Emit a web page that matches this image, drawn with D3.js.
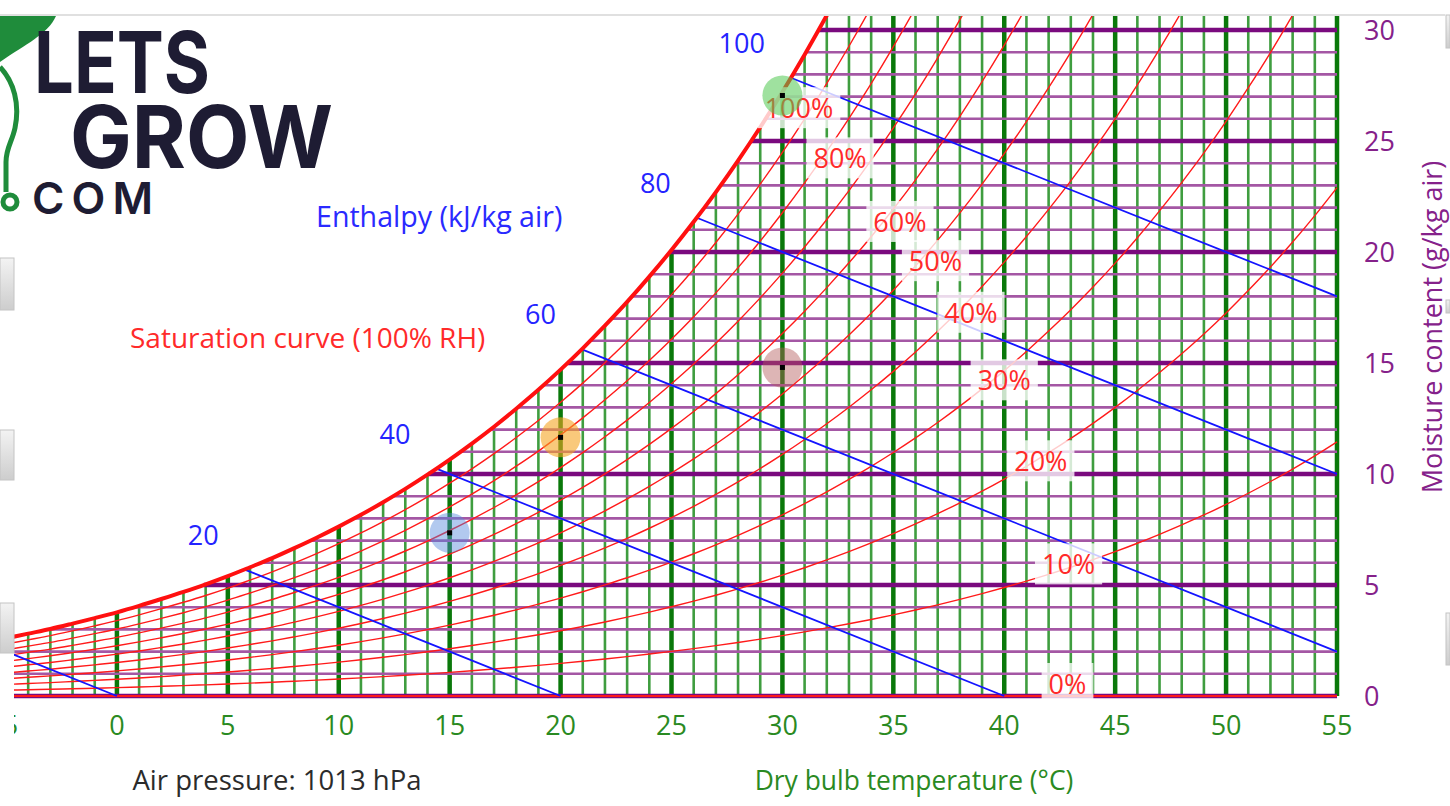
<!DOCTYPE html>
<html>
<head>
<meta charset="utf-8">
<script src="https://cdn.jsdelivr.net/npm/d3@7"></script>
<style>
html, body { margin: 0; padding: 0; background: #fff; overflow: hidden; }
text { font-family: "Open Sans", "Noto Sans", sans-serif; }
</style>
</head>
<body>
<svg id="chart" width="1450" height="806"></svg>
<script>
// dry bulb temperature (°C) and moisture content at saturation (g/kg air, 1013 hPa)
var temps = [-5, -4, -3, -2, -1, 0, 1, 2, 3, 4, 5, 6, 7, 8, 9, 10, 11, 12, 13, 14, 15,
  16, 17, 18, 19, 20, 21, 22, 23, 24, 25, 26, 27, 28, 29, 30, 31, 32, 33, 34, 35,
  36, 37, 38, 39, 40, 41, 42, 43, 44, 45, 46, 47, 48, 49, 50, 51, 52, 53, 54, 55]
var satMoisture = [2.60, 2.81, 3.02, 3.26, 3.51, 3.77, 4.06, 4.37, 4.69, 5.03, 5.40,
  5.80, 6.21, 6.66, 7.13, 7.63, 8.16, 8.73, 9.33, 9.97, 10.65,
  11.37, 12.13, 12.94, 13.79, 14.70, 15.66, 16.68, 17.75, 18.89, 20.09,
  21.36, 22.70, 24.12, 25.62, 27.21, 28.89, 30.66, 32.52, 34.48, 36.56,
  38.75, 41.07, 43.52, 46.12, 48.86, 51.74, 54.80, 58.01, 61.41, 65.00,
  68.81, 72.85, 77.09, 81.54, 86.28, 91.33, 96.62, 102.24, 108.20, 114.51]

// relative humidity curves (%) and where their labels sit (°C, null = no label)
var rhLevels = [0, 10, 20, 30, 40, 50, 60, 70, 80, 90, 100]
var rhLabelTemps = [42.0, 41.7, 40.45, 38.8, 37.3, 35.7, 34.1, null, 31.4, null, 29.2]

// enthalpy lines (kJ/kg air)
var enthalpyLevels = [0, 20, 40, 60, 80, 100]

var xTicks = [-5, 0, 5, 10, 15, 20, 25, 30, 35, 40, 45, 50, 55]
var yTicks = [0, 5, 10, 15, 20, 25, 30]

// marked air states
var pointTemps = [30, 30, 20, 15]
var pointMoisture = [27.05, 14.8, 11.65, 7.35]
var pointColors = ['rgba(80,200,80,0.55)', 'rgba(180,90,90,0.45)', 'rgba(245,165,35,0.6)', 'rgba(85,135,220,0.45)']

var svg = d3.select('#chart')

var x = d3.scaleLinear().domain([-5, 55]).range([6, 1337])
var y = d3.scaleLinear().domain([0, 30]).range([696, 30])
var satAt = d3.scaleLinear().domain(temps).range(satMoisture)      // T -> W at 100%
var tempAtSat = d3.scaleLinear().domain(satMoisture).range(temps)  // W -> T on the curve

var defs = svg.append('defs')
defs.append('clipPath').attr('id', 'plotClip').append('rect')
  .attr('x', 14).attr('y', 16).attr('width', 1330).attr('height', 690)
defs.append('clipPath').attr('id', 'edgeClip').append('rect')
  .attr('x', 14).attr('y', 0).attr('width', 1436).attr('height', 806)
var grad = defs.append('linearGradient').attr('id', 'btn').attr('x1', 0).attr('y1', 0).attr('x2', 0).attr('y2', 1)
grad.append('stop').attr('offset', '0%').attr('stop-color', '#f3f3f3')
grad.append('stop').attr('offset', '100%').attr('stop-color', '#cdcdcd')

var plot = svg.append('g').attr('clip-path', 'url(#plotClip)')

// vertical temperature lines, up to the saturation curve
plot.selectAll('.vline')
  .data(temps)
  .enter()
  .append('line')
  .attr('x1', d => x(d)).attr('x2', d => x(d))
  .attr('y1', y(0))
  .attr('y2', d => y(satAt(d)))
  .attr('stroke', d => d % 5 === 0 ? '#0a780a' : '#3f9d3f')
  .attr('stroke-width', d => d % 5 === 0 ? 4.5 : 2.6)

// horizontal moisture lines, from the saturation curve to the right edge
plot.selectAll('.hline')
  .data(d3.range(0, 31))
  .enter()
  .append('line')
  .attr('x1', d => x(Math.max(tempAtSat(d), -6)))
  .attr('x2', x(55))
  .attr('y1', d => y(d)).attr('y2', d => y(d))
  .attr('stroke', d => d % 5 === 0 ? '#7a0a7e' : '#a457a4')
  .attr('stroke-width', d => d % 5 === 0 ? 4.5 : 2.6)

var curve = d3.line()
  .x(d => x(d[0]))
  .y(d => y(d[1]))
  .curve(d3.curveMonotoneX)

// relative humidity curves
plot.selectAll('.rh')
  .data(rhLevels.filter(r => r > 0 && r < 100))
  .enter()
  .append('path')
  .attr('fill', 'none')
  .attr('stroke', '#ff1a1a')
  .attr('stroke-width', 1.4)
  .attr('d', r => curve(temps.map((t, i) => [t, satMoisture[i] * r / 100])))

// 0% line
plot.append('line')
  .attr('x1', x(-5)).attr('x2', x(55))
  .attr('y1', y(0)).attr('y2', y(0))
  .attr('stroke', '#ff1a1a').attr('stroke-width', 2)

// enthalpy lines: h = T + 2.5 W
function satCross(h) {
  var t = -10
  while ((h - t) / 2.5 > satAt(t)) t += 0.02
  return t
}
var enthalpy = enthalpyLevels.map(function(h) {
  var t0 = satCross(h)
  var t1 = Math.min(h, 55)
  return {h: h, t0: t0, w0: (h - t0) / 2.5, t1: t1, w1: (h - t1) / 2.5}
})
plot.selectAll('.enth')
  .data(enthalpy)
  .enter()
  .append('line')
  .attr('x1', d => x(d.t0)).attr('y1', d => y(d.w0))
  .attr('x2', d => x(d.t1)).attr('y2', d => y(d.w1))
  .attr('stroke', '#1414ff')
  .attr('stroke-width', 1.8)

// saturation curve
plot.append('path')
  .attr('fill', 'none')
  .attr('stroke', '#ff1010')
  .attr('stroke-width', 4)
  .attr('d', curve(temps.filter(t => t <= 33).map((t, i) => [t, satMoisture[i]])))

// RH labels with light boxes
var rhLab = plot.selectAll('.rhlab')
  .data(rhLevels.map((r, i) => ({r: r, t: rhLabelTemps[i]})).filter(d => d.t !== null))
  .enter()
  .append('g')
  .attr('transform', d => 'translate(' + x(d.t) + ',' + (y(satAt(d.t) * d.r / 100) - 2) + ')')
rhLab.append('rect')
rhLab.append('text')
  .attr('fill', '#ff2a2a')
  .style('font-size', '27px')
  .text(d => d.r + '%')
rhLab.each(function() {
  var g = d3.select(this)
  var b = g.select('text').node().getBBox()
  g.select('rect')
    .attr('x', b.x - 7).attr('y', b.y - 2)
    .attr('width', b.width + 14).attr('height', b.height + 4)
    .attr('fill', 'rgba(255,255,255,0.78)')
})

// marked points
var pts = plot.selectAll('.pt')
  .data(pointTemps.map((t, i) => ({t: t, w: pointMoisture[i], c: pointColors[i]})))
  .enter()
  .append('g')
  .attr('transform', d => 'translate(' + x(d.t) + ',' + y(d.w) + ')')
pts.append('circle').attr('r', 20).attr('fill', d => d.c)
pts.append('rect').attr('x', -2.5).attr('y', -2.5).attr('width', 5).attr('height', 5).attr('fill', '#000')

var edge = svg.append('g').attr('clip-path', 'url(#edgeClip)')

// enthalpy numbers
edge.selectAll('.hlab')
  .data(enthalpy.filter(d => d.h > 0))
  .enter()
  .append('text')
  .attr('x', d => x(d.t0) - 26)
  .attr('y', d => y(d.w0) - 25)
  .attr('text-anchor', 'end')
  .attr('fill', '#2424ff')
  .style('font-size', '27px')
  .text(d => d.h)

// axis tick labels
edge.selectAll('.xt')
  .data(xTicks)
  .enter()
  .append('text')
  .attr('x', d => x(d))
  .attr('y', 735)
  .attr('text-anchor', 'middle')
  .attr('fill', '#2a8a22')
  .style('font-size', '27px')
  .text(d => d)

edge.selectAll('.yt')
  .data(yTicks)
  .enter()
  .append('text')
  .attr('x', 1364)
  .attr('y', d => y(d) + 10)
  .attr('fill', '#85218a')
  .style('font-size', '27px')
  .text(d => d)

// titles
edge.append('text')
  .attr('x', 914).attr('y', 790)
  .attr('text-anchor', 'middle')
  .attr('fill', '#2a8a22')
  .style('font-size', '26.4px')
  .text('Dry bulb temperature (°C)')

edge.append('text')
  .attr('transform', 'translate(1442,327) rotate(-90)')
  .attr('text-anchor', 'middle')
  .attr('fill', '#85218a')
  .style('font-size', '27px')
  .text('Moisture content (g/kg air)')

svg.append('text')
  .attr('x', 277).attr('y', 790)
  .attr('text-anchor', 'middle')
  .attr('fill', '#2b2b2b')
  .style('font-size', '27.5px')
  .text('Air pressure: 1013 hPa')

svg.append('text')
  .attr('x', 130).attr('y', 348)
  .attr('fill', '#ff2a2a')
  .style('font-size', '28px')
  .text('Saturation curve (100% RH)')

svg.append('text')
  .attr('x', 316).attr('y', 227)
  .attr('fill', '#2a2aff')
  .style('font-size', '28.6px')
  .text('Enthalpy (kJ/kg air)')

// logo
var logo = svg.append('g')
logo.append('path')
  .attr('d', 'M0,16 L56,16 C48,34 26,44 0,62 Z')
  .attr('fill', '#1f8c3b')
logo.append('path')
  .attr('d', 'M0,67 C14,82 20,104 15,128 C12,142 6,148 6,162 L6,192')
  .attr('fill', 'none').attr('stroke', '#1f8c3b').attr('stroke-width', 5)
logo.append('circle')
  .attr('cx', 10).attr('cy', 202).attr('r', 7)
  .attr('fill', 'none').attr('stroke', '#1f8c3b').attr('stroke-width', 5)
logo.append('text')
  .attr('x', 34).attr('y', 93)
  .attr('textLength', 176).attr('lengthAdjust', 'spacingAndGlyphs')
  .attr('fill', '#1e1c33')
  .style('font-family', 'Inter, "Noto Sans", sans-serif')
  .style('font-weight', 700)
  .style('font-size', '85px')
  .text('LETS')
logo.append('text')
  .attr('x', 70).attr('y', 168)
  .attr('textLength', 263).attr('lengthAdjust', 'spacingAndGlyphs')
  .attr('fill', '#1e1c33')
  .style('font-family', 'Inter, "Noto Sans", sans-serif')
  .style('font-weight', 700)
  .style('font-size', '87px')
  .text('GROW')
logo.append('text')
  .attr('x', 32).attr('y', 214)
  .attr('textLength', 121).attr('lengthAdjust', 'spacing')
  .attr('fill', '#1e1c33')
  .style('font-family', 'Inter, "Noto Sans", sans-serif')
  .style('font-weight', 600)
  .style('font-size', '44px')
  .text('COM')

// window chrome around the screenshot
svg.append('line')
  .attr('x1', 0).attr('x2', 1445).attr('y1', 15).attr('y2', 15)
  .attr('stroke', '#d6d6d6').attr('stroke-width', 1.5)
svg.selectAll('.btn')
  .data([[0, 258, 14, 52], [0, 430, 14, 50], [0, 603, 14, 50], [1446, 15, 4, 33], [1446, 300, 4, 13], [1446, 613, 4, 52]])
  .enter()
  .append('rect')
  .attr('x', d => d[0]).attr('y', d => d[1])
  .attr('width', d => d[2]).attr('height', d => d[3])
  .attr('fill', 'url(#btn)')
  .attr('stroke', '#c4c4c4').attr('stroke-width', 1)
</script>
</body>
</html>
